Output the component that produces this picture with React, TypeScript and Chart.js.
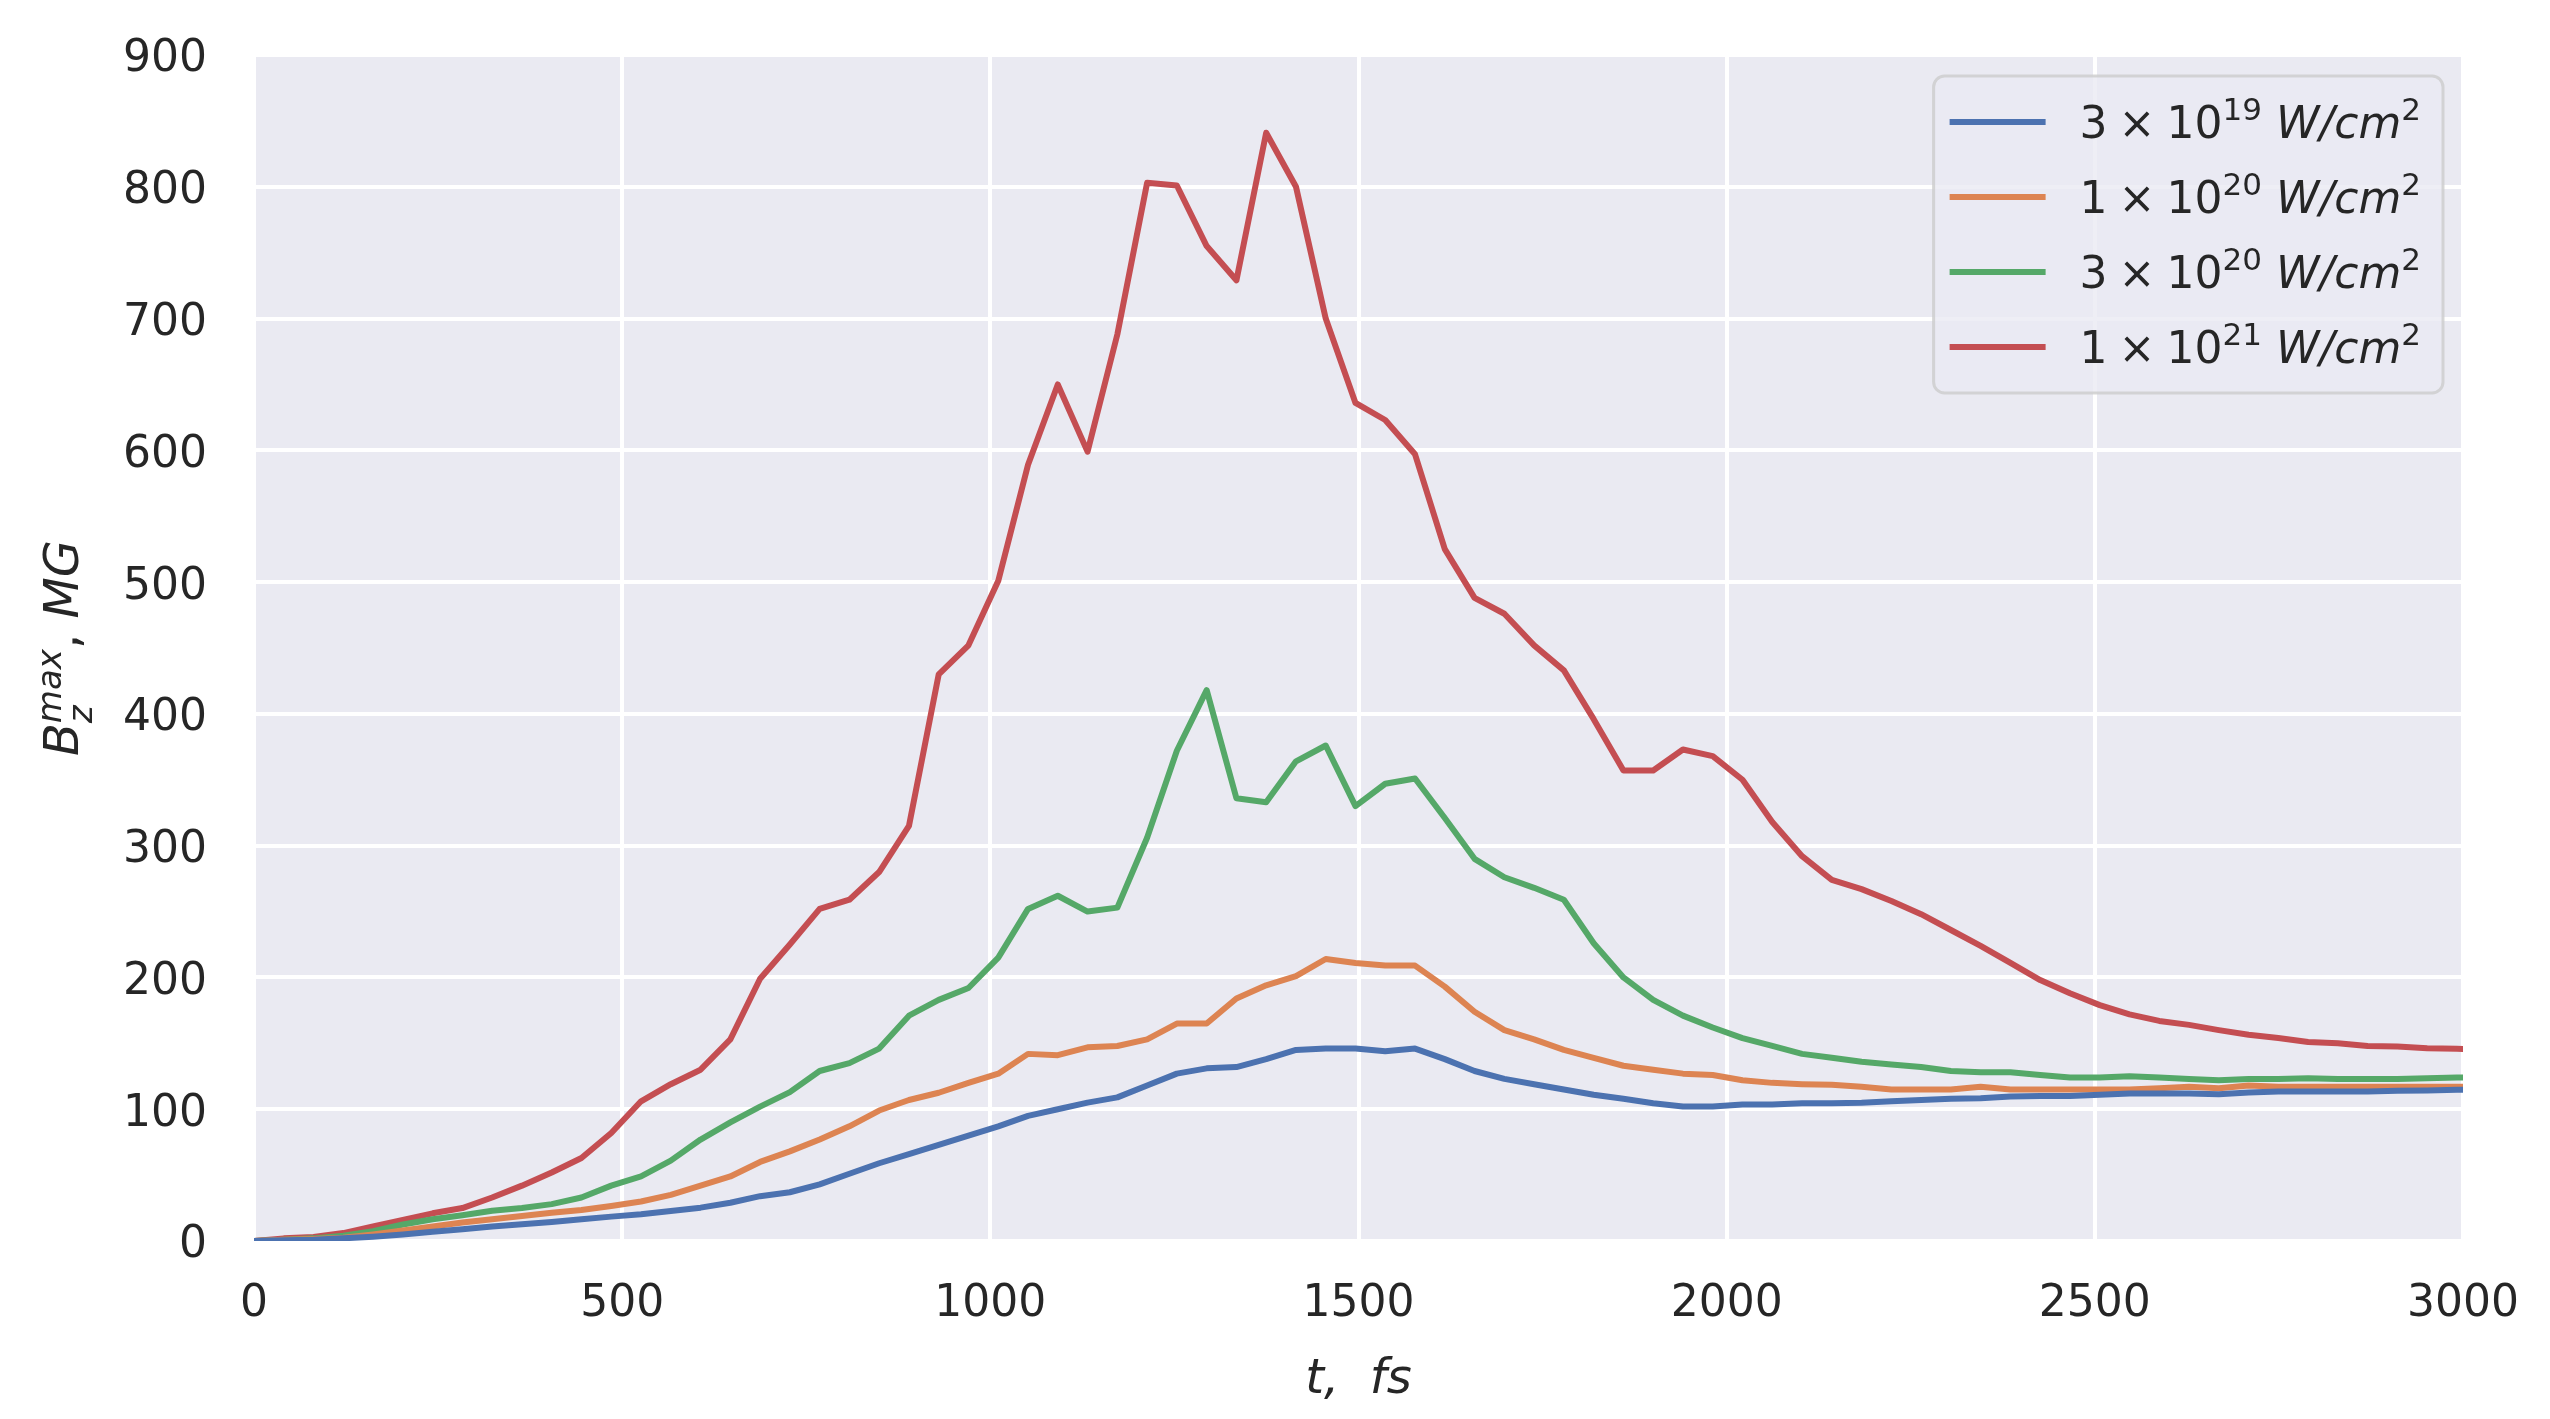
import React, { useEffect, useRef } from 'react';
import { Chart, registerables } from 'chart.js';

Chart.register(...registerables);

// Time axis (fs)
const timesFs = [
  0, 40.4, 80.9, 121.3, 161.7, 202.2, 242.6, 283.0, 323.4, 363.9,
  404.3, 444.7, 485.2, 525.6, 566.0, 606.5, 646.9, 687.3, 727.7, 768.2,
  808.6, 849.0, 889.5, 929.9, 970.3, 1010.8, 1051.2, 1091.6, 1132.0, 1172.5,
  1212.9, 1253.3, 1293.8, 1334.2, 1374.6, 1415.1, 1455.5, 1495.9, 1536.3, 1576.8,
  1617.2, 1657.6, 1698.1, 1738.5, 1778.9, 1819.4, 1859.8, 1900.2, 1940.6, 1981.1,
  2021.5, 2061.9, 2102.4, 2142.8, 2183.2, 2223.7, 2264.1, 2304.5, 2344.9, 2385.4,
  2425.8, 2466.2, 2506.7, 2547.1, 2587.5, 2628.0, 2668.4, 2708.8, 2749.2, 2789.7,
  2830.1, 2870.5, 2911.0, 2951.4, 2991.8, 3032.2,
];

// B_z^max (MG) for 3e19 W/cm^2
const bzMax3e19 = [
  0, 0.5, 1, 2, 3.3, 5, 7, 9, 11, 12.7,
  14.4, 16.5, 18.5, 20.3, 22.8, 25.3, 29, 34, 37, 43,
  51, 59, 66, 73, 80, 87, 95, 100, 105, 109,
  118, 127, 131, 132, 138, 145, 146, 146, 144, 146,
  138, 129, 123, 119, 115, 111, 108, 104.5, 102, 102,
  103.5, 103.5, 104.5, 104.6, 105, 106, 107, 108, 108.4, 109.6,
  110, 110, 111, 112, 112, 112, 111.4, 112.7, 113.4, 113.4,
  113.4, 113.4, 114, 114.2, 114.7, 115,
];

// 1e20 W/cm^2
const bzMax1e20 = [
  0, 1, 1.5, 2.5, 5, 8, 11, 14, 16.5, 19,
  21.5, 23.5, 26.5, 30, 35, 42, 49, 60, 68, 77,
  87, 99, 107, 112.5, 120, 127, 142, 141, 147, 148,
  153, 165, 165, 184, 194, 201, 214, 211, 209, 209,
  193, 174, 160, 153, 145, 139, 133, 130, 127, 126,
  122, 120, 119, 118.5, 117, 115, 115, 115, 117, 115,
  115, 115, 115, 115, 116, 117, 116, 118, 117, 117,
  117, 117, 117, 117, 117, 117,
];

// 3e20 W/cm^2
const bzMax3e20 = [
  0, 1, 2, 4, 7.5, 12.5, 16.5, 19.5, 23, 25,
  28, 33, 42, 49, 61, 77, 90, 102, 113, 129,
  135, 146, 171, 183, 192, 215, 252, 262, 250, 253,
  306, 372, 418, 336, 333, 364, 376, 330, 347, 351,
  321, 290, 276, 268, 259, 226, 200, 183, 171, 162,
  154, 148, 142, 139, 136, 134, 132, 129, 128, 128,
  126, 124, 124, 125, 124, 123, 122, 123, 123, 123.5,
  123, 123, 123, 123.5, 124, 124,
];

// 1e21 W/cm^2
const bzMax1e21 = [
  0, 2, 3, 6, 11, 16, 21, 25, 33, 42,
  52, 63, 82, 106, 119, 130, 153, 199, 225, 252,
  259, 280, 315, 430, 452, 501, 589, 650, 599, 688,
  803, 801, 755, 729, 841, 800, 700, 636, 623, 597,
  525, 488, 476, 452, 433, 396, 357, 357, 373, 368,
  350, 318, 292, 274, 267, 258, 248, 236, 224, 211,
  198, 188, 179, 172, 167, 164, 160, 156.5, 154, 151,
  150, 148, 147.6, 146.3, 145.8, 145.5,
];

const seriesColors = ['#4C72B0', '#DD8452', '#55A868', '#C44E52'];
const legendMantissas = ['3', '1', '3', '1'];
const legendExponents = ['19', '20', '20', '21'];
const legendPlain = ['3 × 10¹⁹ W/cm²', '1 × 10²⁰ W/cm²', '3 × 10²⁰ W/cm²', '1 × 10²¹ W/cm²'];

const xMin = 0;
const xMax = 3000;
const xStep = 500;
const yMin = 0;
const yMax = 900;
const yStep = 100;

const FAMILY = "'DejaVu Sans', 'Liberation Sans', sans-serif";
const TEXT_COLOR = '#262626';

type Seg = {
  t?: string;
  size: number;
  italic?: boolean;
  dy?: number;
  stack?: Seg[];
};

function segFont(s: Seg) {
  return `${s.italic ? 'italic ' : ''}${s.size}px ${FAMILY}`;
}

function segWidth(ctx: CanvasRenderingContext2D, s: Seg): number {
  if (s.stack) {
    return Math.max(...s.stack.map((x) => segWidth(ctx, x)));
  }
  ctx.font = segFont(s);
  return ctx.measureText(s.t || '').width;
}

function richWidth(ctx: CanvasRenderingContext2D, segs: Seg[]) {
  return segs.reduce((acc, s) => acc + segWidth(ctx, s), 0);
}

function drawRich(ctx: CanvasRenderingContext2D, segs: Seg[], x: number, y: number) {
  let cx = x;
  for (const s of segs) {
    if (s.stack) {
      for (const sub of s.stack) {
        ctx.font = segFont(sub);
        ctx.fillText(sub.t || '', cx, y + (sub.dy || 0));
      }
    } else {
      ctx.font = segFont(s);
      ctx.fillText(s.t || '', cx, y + (s.dy || 0));
    }
    cx += segWidth(ctx, s);
  }
}

function roundRectPath(ctx: CanvasRenderingContext2D, x: number, y: number, w: number, h: number, r: number) {
  ctx.beginPath();
  ctx.moveTo(x + r, y);
  ctx.lineTo(x + w - r, y);
  ctx.arcTo(x + w, y, x + w, y + r, r);
  ctx.lineTo(x + w, y + h - r);
  ctx.arcTo(x + w, y + h, x + w - r, y + h, r);
  ctx.lineTo(x + r, y + h);
  ctx.arcTo(x, y + h, x, y + h - r, r);
  ctx.lineTo(x, y + r);
  ctx.arcTo(x, y, x + r, y, r);
  ctx.closePath();
}

const decorPlugin = {
  id: 'decor',
  beforeDraw(chart: any) {
    const { ctx, chartArea: a, width, height } = chart;
    ctx.save();
    ctx.fillStyle = '#ffffff';
    ctx.fillRect(0, 0, width, height);
    ctx.fillStyle = '#EAEAF2';
    ctx.fillRect(a.left, a.top, a.right - a.left, a.bottom - a.top);
    ctx.restore();
  },
  afterDraw(chart: any) {
    const { ctx, chartArea: a } = chart;
    ctx.save();
    ctx.fillStyle = TEXT_COLOR;
    ctx.textAlign = 'left';
    ctx.textBaseline = 'alphabetic';

    // X axis title
    const xTitle: Seg[] = [
      { t: 't', size: 48, italic: true },
      { t: ',', size: 48, italic: true },
      { t: '  ', size: 48 },
      { t: 'fs', size: 48, italic: true },
    ];
    const xw = richWidth(ctx, xTitle);
    drawRich(ctx, xTitle, (a.left + a.right) / 2 - xw / 2, a.bottom + 152);

    // Y axis title (rotated)
    const yTitle: Seg[] = [
      { t: 'B', size: 48, italic: true },
      {
        size: 34,
        stack: [
          { t: 'max', size: 34, italic: true, dy: -17 },
          { t: 'z', size: 34, italic: true, dy: 14 },
        ],
      },
      { t: ', ', size: 48 },
      { t: 'MG', size: 48, italic: true },
    ];
    const yw = richWidth(ctx, yTitle);
    ctx.save();
    ctx.translate(a.left - 176, (a.top + a.bottom) / 2);
    ctx.rotate(-Math.PI / 2);
    drawRich(ctx, yTitle, -yw / 2, 0);
    ctx.restore();

    // Legend
    const rows: Seg[][] = legendMantissas.map((m, i) => [
      { t: `${m}\u2005×\u200510`, size: 44 },
      { t: legendExponents[i], size: 31, dy: -18 },
      { t: ' ', size: 44 },
      { t: 'W/cm', size: 44, italic: true },
      { t: '2', size: 31, dy: -18 },
    ]);
    const textW = Math.max(...rows.map((r) => richWidth(ctx, r)));
    const padL = 16;
    const handleLen = 96;
    const handleGap = 34;
    const padR = 22;
    const rowGap = 75;
    const padV = 46;
    const boxW = padL + handleLen + handleGap + textW + padR;
    const boxH = padV * 2 + rowGap * (rows.length - 1);
    const boxRight = a.right - 20;
    const boxTop = a.top + 21;
    const boxLeft = boxRight - boxW;

    roundRectPath(ctx, boxLeft, boxTop, boxW, boxH, 11);
    ctx.fillStyle = 'rgba(234,234,242,0.8)';
    ctx.fill();
    ctx.lineWidth = 3;
    ctx.strokeStyle = 'rgba(204,204,204,0.8)';
    ctx.stroke();

    rows.forEach((r, i) => {
      const cy = boxTop + padV + i * rowGap;
      ctx.beginPath();
      ctx.moveTo(boxLeft + padL, cy);
      ctx.lineTo(boxLeft + padL + handleLen, cy);
      ctx.strokeStyle = seriesColors[i];
      ctx.lineWidth = 6;
      ctx.lineCap = 'butt';
      ctx.stroke();
      ctx.fillStyle = TEXT_COLOR;
      drawRich(ctx, r, boxLeft + padL + handleLen + handleGap, cy + 16);
    });

    ctx.restore();
  },
};

export default function App() {
  const ref = useRef<HTMLCanvasElement>(null);

  useEffect(() => {
    const canvas = ref.current;
    if (!canvas) return;
    const seriesValues = [bzMax3e19, bzMax1e20, bzMax3e20, bzMax1e21];
    const chart = new Chart(canvas, {
      type: 'line',
      data: {
        datasets: seriesValues.map((vals, i) => ({
          label: legendPlain[i],
          data: timesFs.map((t, j) => ({ x: t, y: vals[j] })),
          borderColor: seriesColors[i],
          backgroundColor: seriesColors[i],
          borderWidth: 6,
          pointRadius: 0,
          pointHoverRadius: 0,
          tension: 0,
          fill: false,
          clip: 0,
          borderJoinStyle: 'round',
          borderCapStyle: 'butt',
        })),
      },
      options: {
        responsive: false,
        animation: false,
        devicePixelRatio: 1,
        events: [],
        layout: { padding: { top: 55, right: 87, bottom: 0, left: 0 } },
        plugins: {
          legend: { display: false },
          tooltip: { enabled: false },
          title: { display: false },
        },
        scales: {
          x: {
            type: 'linear',
            min: xMin,
            max: xMax,
            afterFit: (s: any) => {
              s.height = 178;
              s.paddingLeft = 0;
              s.paddingRight = 0;
            },
            ticks: {
              stepSize: xStep,
              color: TEXT_COLOR,
              font: { family: FAMILY, size: 44 },
              padding: 37,
              maxRotation: 0,
              autoSkip: false,
              callback: (v: any) => String(v),
            },
            grid: { color: '#ffffff', lineWidth: 4, drawTicks: false },
            border: { display: false },
          },
          y: {
            type: 'linear',
            min: yMin,
            max: yMax,
            afterFit: (s: any) => {
              s.width = 254;
              s.paddingTop = 0;
              s.paddingBottom = 0;
            },
            ticks: {
              stepSize: yStep,
              color: TEXT_COLOR,
              font: { family: FAMILY, size: 44 },
              padding: 47,
              labelOffset: 5,
              autoSkip: false,
              callback: (v: any) => String(v),
            },
            grid: { color: '#ffffff', lineWidth: 4, drawTicks: false },
            border: { display: false },
          },
        },
      },
      plugins: [decorPlugin],
    } as any);
    return () => chart.destroy();
  }, []);

  return (
    <div style={{ position: 'fixed', left: 0, top: 0, width: 2550, height: 1419, background: '#ffffff' }}>
      <canvas ref={ref} width={2550} height={1419} style={{ display: 'block', width: 2550, height: 1419 }} />
    </div>
  );
}
